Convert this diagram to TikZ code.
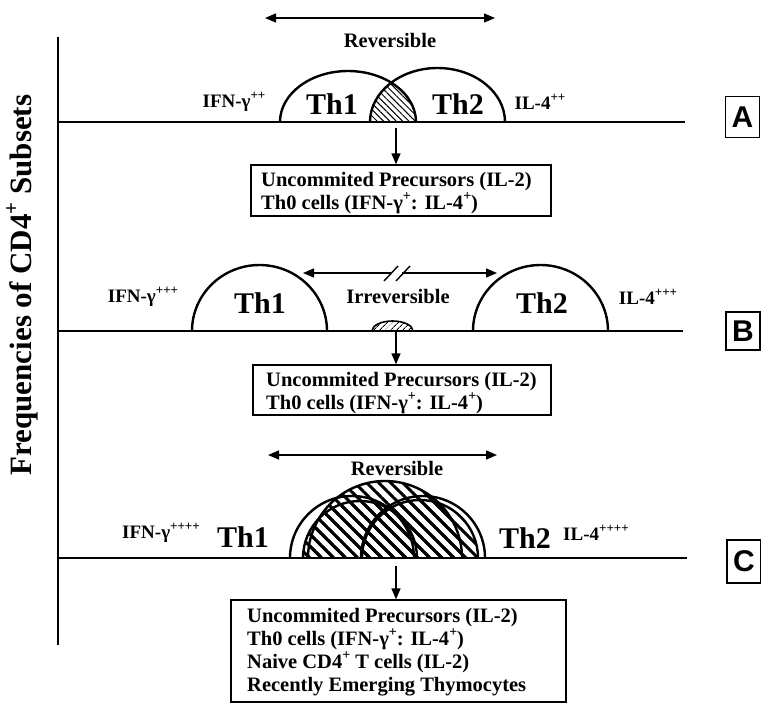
\documentclass[tikz,border=0pt]{standalone}
\usepackage{fontspec}
\setmainfont{Liberation Serif}
\newfontfamily\lsans{Liberation Sans}
\usetikzlibrary{arrows.meta,patterns.meta}
\newcommand\supsm[1]{\raisebox{0.45em}{\fontsize{13}{13}\selectfont #1}}
\newcommand\supbx[1]{\raisebox{0.42em}{\fontsize{14}{14}\selectfont #1}}
\begin{document}
\begin{tikzpicture}[x=1pt,y=-1pt,
  baseln/.style={line width=2.4pt},
  cellarc/.style={line width=2.4pt},
  arr/.style={line width=1.4pt,-{Triangle[length=11pt,width=9pt]}},
  darr/.style={line width=1.4pt,{Triangle[length=11pt,width=9pt]}-{Triangle[length=11pt,width=9pt]}},
  infobox/.style={draw,line width=1.3pt,inner sep=0pt},
  thlab/.style={font=\fontsize{30}{30}\selectfont\bfseries,inner sep=0pt},
  cyt/.style={font=\fontsize{19}{19}\selectfont\bfseries,inner sep=0pt},
  revlab/.style={font=\fontsize{20.5}{21}\selectfont\bfseries,inner sep=0pt},
  boxtext/.style={font=\fontsize{20.5}{23}\selectfont\bfseries,align=left,anchor=west,inner sep=0pt},
  panel/.style={draw,line width=1.3pt,minimum width=34pt,inner sep=0pt,font=\lsans\fontsize{30}{30}\selectfont\bfseries},
  hatchA/.style={pattern={Lines[angle=-45,distance=4.5pt,line width=1pt]}},
  hatchB/.style={pattern={Lines[angle=45,distance=4pt,line width=1pt]}},
  hatchC/.style={pattern={Lines[angle=-45,distance=8.5pt,line width=3pt]}}
]
\useasboundingbox (0,0) rectangle (761,705);

% axis and baselines
\draw[baseln] (58,37) -- (58,645);
\draw[baseln] (58,122) -- (685,122);
\draw[baseln] (58,331) -- (683,331);
\draw[baseln] (58,558) -- (687,558);

\node[rotate=90,font=\fontsize{31}{31}\selectfont\bfseries] (ylab) at (22,285) {Frequencies of CD4\raisebox{0.42em}{\fontsize{21}{21}\selectfont +} Subsets};

% ---------------- Panel A ----------------
\begin{scope}
  \clip (280,122) arc[start angle=180,end angle=0,x radius=68pt,y radius=51pt] -- cycle;
  \fill[hatchA] (370,122) arc[start angle=180,end angle=0,x radius=67.5pt,y radius=54pt] -- cycle;
\end{scope}
\draw[cellarc] (280,122) arc[start angle=180,end angle=0,x radius=68pt,y radius=51pt];
\draw[cellarc] (370,122) arc[start angle=180,end angle=0,x radius=67.5pt,y radius=54pt];
\node[thlab] (th1A) at (332,104) {Th1};
\node[thlab] (th2A) at (458,104) {Th2};
\node[cyt] (ifnA) at (234,102) {IFN-γ\supsm{++}};
\node[cyt] (ilA) at (540,102) {IL-4\supsm{++}};
\coordinate (revAl) at (265,18);
\coordinate (revAr) at (495,18);
\draw[darr] (revAl) -- (revAr);
\node[revlab] (revA) at (390,40) {Reversible};
\node[infobox,minimum width=300pt,minimum height=51pt] (boxA) at (401,190.5) {};
\node[boxtext] (txtA) at (261,193) {Uncommited Precursors (IL-2)\\Th0 cells (IFN-γ\supbx{+}: IL-4\supbx{+})};
\coordinate (dA) at (396,128);
\draw[arr] (dA) -- (dA |- boxA.north);
\node[panel,minimum height=41pt] (pA) at (742.5,117) {A};

% ---------------- Panel B ----------------
\fill[hatchB] (372,331) arc[start angle=180,end angle=0,x radius=20.5pt,y radius=10pt] -- cycle;
\draw[line width=1.6pt] (372,331) arc[start angle=180,end angle=0,x radius=20.5pt,y radius=10pt];
\draw[cellarc] (192,331) arc[start angle=180,end angle=0,x radius=67.5pt,y radius=66pt];
\draw[cellarc] (473,331) arc[start angle=180,end angle=0,x radius=67.5pt,y radius=66pt];
\node[thlab] (th1B) at (260,303) {Th1};
\node[thlab] (th2B) at (542,303) {Th2};
\node[cyt] (ifnB) at (143,297) {IFN-γ\supsm{+++}};
\node[cyt] (ilB) at (648,297) {IL-4\supsm{+++}};
\coordinate (irrL) at (303,273);
\coordinate (irrLm) at (391,273);
\coordinate (irrRm) at (402,273);
\coordinate (irrR) at (497,273);
\draw[arr] (irrLm) -- (irrL);
\draw[arr] (irrRm) -- (irrR);
\draw[line width=1.4pt] (384,281) -- (398,266);
\draw[line width=1.4pt] (396,281) -- (410,266);
\node[revlab] (irr) at (398,296) {Irreversible};
\node[infobox,minimum width=298pt,minimum height=50pt] (boxB) at (402,390) {};
\node[boxtext] (txtB) at (266,393) {Uncommited Precursors (IL-2)\\Th0 cells (IFN-γ\supbx{+}: IL-4\supbx{+})};
\coordinate (dB) at (396,332);
\draw[arr] (dB) -- (dB |- boxB.north);
\node[panel,minimum height=38pt] (pB) at (743,331) {B};

% ---------------- Panel C ----------------
\fill[hatchC] (303,558) arc[start angle=180,end angle=0,radius=57pt] -- cycle;
\fill[hatchC] (362,558) arc[start angle=180,end angle=0,radius=58pt] -- cycle;
\fill[hatchC] (308,558) arc[start angle=180,end angle=0,radius=77pt] -- cycle;
\draw[cellarc] (290,558) arc[start angle=180,end angle=0,radius=62pt];
\draw[cellarc] (361,558) arc[start angle=180,end angle=0,radius=62pt];
\draw[cellarc] (303,558) arc[start angle=180,end angle=0,radius=57pt];
\draw[cellarc] (362,558) arc[start angle=180,end angle=0,radius=58pt];
\draw[cellarc] (308,558) arc[start angle=180,end angle=0,radius=77pt];
\node[thlab] (th1C) at (243,537) {Th1};
\node[thlab] (th2C) at (525,538) {Th2};
\node[cyt] (ifnC) at (161,533) {IFN-γ\supsm{++++}};
\node[cyt] (ilC) at (596,533) {IL-4\supsm{++++}};
\coordinate (revCl) at (268,455);
\coordinate (revCr) at (497,455);
\draw[darr] (revCl) -- (revCr);
\node[revlab] (revC) at (397,468) {Reversible};
\node[infobox,minimum width=335pt,minimum height=102pt] (boxC) at (398.5,651) {};
\node[boxtext] (txtC) at (247,652) {Uncommited Precursors (IL-2)\\Th0 cells (IFN-γ\supbx{+}: IL-4\supbx{+})\\Naive CD4\supbx{+} T cells (IL-2)\\Recently Emerging Thymocytes};
\coordinate (dC) at (396,566);
\draw[arr] (dC) -- (dC |- boxC.north);
\node[panel,minimum height=43pt] (pC) at (744,561.5) {C};
\end{tikzpicture}
\end{document}
